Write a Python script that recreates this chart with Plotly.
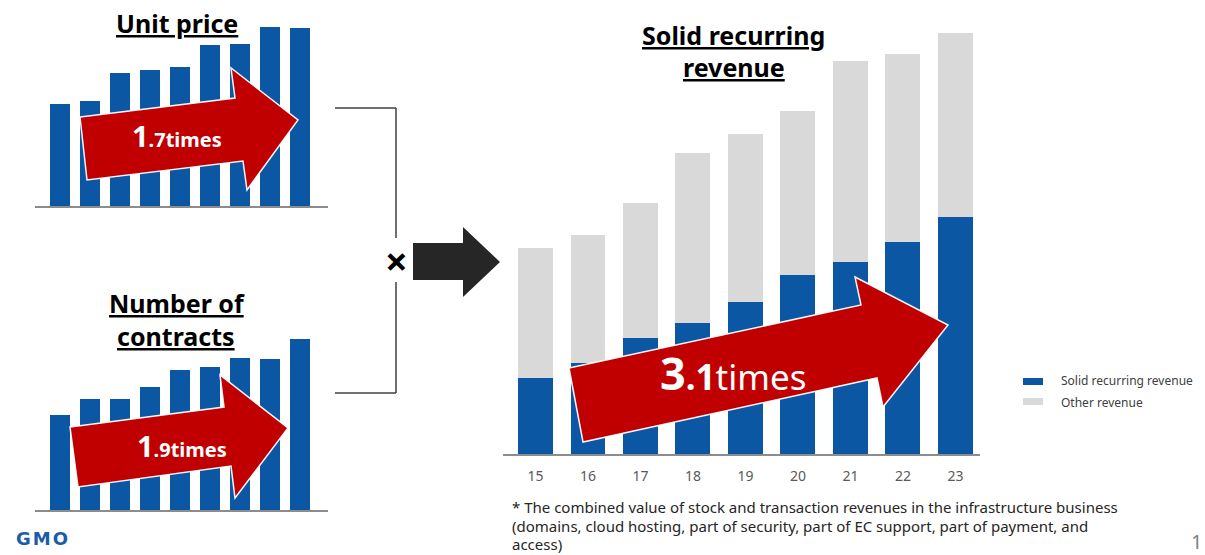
import plotly.graph_objects as go

W, H = 1205, 555

# Fiscal years shown on the main chart
years = ["15", "16", "17", "18", "19", "20", "21", "22", "23"]

# Main chart: stacked revenue (relative units)
solid_recurring = [76, 91, 116, 131, 152, 179, 192, 212, 237]
other_revenue = [130, 128, 135, 170, 168, 164, 201, 188, 184]

# Small charts: unit price and number of contracts (relative units)
unit_price = [102, 105, 133, 136, 139, 161, 162, 179, 178]
contracts = [95, 111, 111, 123, 140, 143, 152, 151, 171]

series_names = ["Solid recurring revenue", "Other revenue"]
footnote_lines = [
    "* The combined value of stock and transaction revenues in the infrastructure business",
    "(domains, cloud hosting, part of security, part of EC support, part of payment, and",
    "access)",
]

BLUE = "#0b57a4"
GRAY = "#d9d9d9"
RED = "#c00000"
AXIS = "#8c8c8c"
FONT = "Noto Sans"


def px(x):
    return x / W


def py(y):
    return 1 - y / H


def path(points):
    return "M " + " L ".join(f"{px(x):.5f},{py(y):.5f}" for x, y in points) + " Z"


fig = go.Figure()

# Main stacked bars
fig.add_trace(go.Bar(x=years, y=solid_recurring, name=series_names[0],
                     marker=dict(color=BLUE, line=dict(width=0)),
                     xaxis="x", yaxis="y", showlegend=False))
fig.add_trace(go.Bar(x=years, y=other_revenue, name=series_names[1],
                     marker=dict(color=GRAY, line=dict(width=0)),
                     xaxis="x", yaxis="y", showlegend=False))

# Unit price bars
fig.add_trace(go.Bar(x=years, y=unit_price, name="Unit price",
                     marker=dict(color=BLUE, line=dict(width=0)),
                     xaxis="x2", yaxis="y2", showlegend=False))

# Number of contracts bars
fig.add_trace(go.Bar(x=years, y=contracts, name="Number of contracts",
                     marker=dict(color=BLUE, line=dict(width=0)),
                     xaxis="x3", yaxis="y3", showlegend=False))

hidden_y = dict(visible=False, fixedrange=True)

fig.update_layout(
    width=W, height=H,
    margin=dict(l=0, r=0, t=0, b=0),
    paper_bgcolor="white", plot_bgcolor="rgba(0,0,0,0)",
    barmode="stack", bargap=1 / 3,
    font=dict(family=FONT),
    xaxis=dict(domain=[px(503), px(980)], range=[-0.619, 8.467], type="category",
               showline=True, linecolor=AXIS, linewidth=1.5, showgrid=False,
               ticks="", tickfont=dict(size=14, color="#595959"),
               ticklabelstandoff=8, anchor="y"),
    yaxis=dict(domain=[py(454), py(33)], range=[0, 421], anchor="x", **hidden_y),
    xaxis2=dict(domain=[px(35), px(328)], range=[-0.8333, 8.9333], type="category",
                showline=True, linecolor=AXIS, linewidth=2, showgrid=False,
                showticklabels=False, ticks="", anchor="y2"),
    yaxis2=dict(domain=[py(206), py(27)], range=[0, 179], anchor="x2", **hidden_y),
    xaxis3=dict(domain=[px(35), px(328)], range=[-0.8333, 8.9333], type="category",
                showline=True, linecolor=AXIS, linewidth=2, showgrid=False,
                showticklabels=False, ticks="", anchor="y3"),
    yaxis3=dict(domain=[py(510), py(339)], range=[0, 171], anchor="x3", **hidden_y),
)

shapes = []

# Growth arrows over the bars
arrow_style = dict(type="path", xref="paper", yref="paper", fillcolor=RED,
                   line=dict(color="rgba(255,255,255,0.95)", width=1.5), layer="above")
shapes.append(dict(path=path([(80, 117), (235, 98), (231, 68), (298, 120),
                              (247, 190), (243, 161), (87, 180)]), **arrow_style))
shapes.append(dict(path=path([(70, 427), (224, 407), (220, 375), (288, 428),
                              (235, 498), (231, 466), (78, 487)]), **arrow_style))
shapes.append(dict(path=path([(569, 368), (861, 305), (855, 277), (948, 325),
                              (883, 407), (877, 378), (583, 442)]), **arrow_style))

# Bracket joining the two small charts
bracket = dict(type="line", xref="paper", yref="paper",
               line=dict(color="#404040", width=1.5))
for (x0, y0, x1, y1) in [(335, 108, 396, 108), (396, 108, 396, 238),
                         (396, 282, 396, 393), (335, 393, 396, 393)]:
    shapes.append(dict(x0=px(x0), y0=py(y0), x1=px(x1), y1=py(y1), **bracket))

# Black arrow pointing to the main chart
shapes.append(dict(type="path", xref="paper", yref="paper", fillcolor="#262626",
                   line=dict(width=0),
                   path=path([(413, 243), (463, 243), (463, 227), (500, 262),
                              (463, 297), (463, 280), (413, 280)])))

# Legend swatches
shapes.append(dict(type="rect", xref="paper", yref="paper", fillcolor=BLUE,
                   line=dict(width=0), x0=px(1023), x1=px(1043), y0=py(385), y1=py(378)))
shapes.append(dict(type="rect", xref="paper", yref="paper", fillcolor=GRAY,
                   line=dict(width=0), x0=px(1023), x1=px(1043), y0=py(405), y1=py(398)))

fig.update_layout(shapes=shapes)


def note(x, y, text, size, color="#000000", xanchor="center", yanchor="middle", **kw):
    fig.add_annotation(x=px(x), y=py(y), xref="paper", yref="paper", text=text,
                       showarrow=False, xanchor=xanchor, yanchor=yanchor,
                       font=dict(size=size, color=color, family=kw.pop("family", FONT)),
                       align=kw.pop("align", "center"), **kw)


# Titles
note(177, 23, "<b><u>Unit price</u></b>", 25)
note(177, 303, "<b><u>Number of</u></b>", 25)
note(176, 336, "<b><u>contracts</u></b>", 25)
note(734, 35, "<b><u>Solid recurring</u></b>", 25)
note(734, 67, "<b><u>revenue</u></b>", 25)

# Growth multiples
note(177, 136, "<b><span style='font-size:29px'>1</span>.7times</b>", 20, "white")
note(182, 445, "<b><span style='font-size:29px'>1</span>.9times</b>", 20, "white")
note(734, 372, "<b><span style='font-size:45px'>3</span>.1</b>times", 35, "white")

# Multiplication sign
note(396, 260, "<b>×</b>", 40)

# Legend labels
note(1059, 380, series_names[0], 12, "#404040", xanchor="left")
note(1059, 402, series_names[1], 12, "#404040", xanchor="left")

# Footnote, one line per annotation
for i, line in enumerate(footnote_lines):
    note(510, 507 + 18.5 * i, line, 15, "#262626", xanchor="left", align="left")

# Page number and logo
note(1196, 541, "1", 20, "#7f7f7f")
note(43, 538, "<b><span style='letter-spacing:2px'>GMO</span></b>", 18, "#1a5ca8",
     family="DejaVu Sans")

fig.write_html("out.html")
